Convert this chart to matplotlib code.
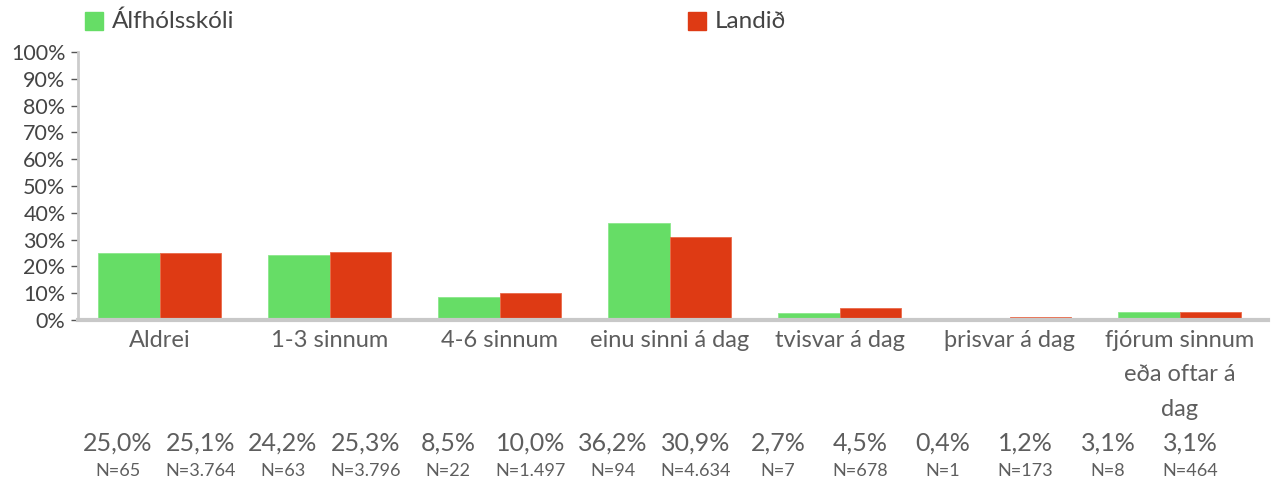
import matplotlib.pyplot as plt
import numpy as np

plt.rcParams['font.family'] = ['Lato', 'DejaVu Sans']

flokkar = ["Aldrei", "1-3 sinnum", "4-6 sinnum", "einu sinni á dag",
           "tvisvar á dag", "þrisvar á dag", "fjórum sinnum\neða oftar á\ndag"]
skoli = [25.0, 24.2, 8.5, 36.2, 2.7, 0.4, 3.1]
landid = [25.1, 25.3, 10.0, 30.9, 4.5, 1.2, 3.1]
n_skoli = ["65", "63", "22", "94", "7", "1", "8"]
n_landid = ["3.764", "3.796", "1.497", "4.634", "678", "173", "464"]

graenn = "#66dd66"
raudur = "#de3a14"
texti = "#5e5e5e"

fig = plt.figure(figsize=(12.76, 4.84), dpi=100)
ax = fig.add_axes([78 / 1276, 164 / 484, 1190 / 1276, 268 / 484])

x = np.arange(len(flokkar))
b = 0.36
ax.bar(x - b / 2, skoli, b, color=graenn, edgecolor="#8be88b", linewidth=0.6)
ax.bar(x + b / 2, landid, b, color=raudur, edgecolor="#ea6a4a", linewidth=0.6)

ax.set_xlim(-0.48, len(flokkar) - 0.48)
ax.set_ylim(0, 100)
ax.set_yticks(range(0, 101, 10))
ax.set_yticklabels([f"{v}%" for v in range(0, 101, 10)], fontsize=15.5, color="#444444")
ax.set_xticks(x)
ax.set_xticklabels(flokkar, fontsize=17, color=texti, linespacing=1.8)
ax.tick_params(axis="x", length=0, pad=7)
ax.tick_params(axis="y", length=5, width=1, color="#555555", pad=4)

for s in ["top", "right"]:
    ax.spines[s].set_visible(False)
ax.spines["left"].set_color("#cccccc")
ax.spines["left"].set_linewidth(2)
ax.spines["bottom"].set_color("#c8c8c8")
ax.spines["bottom"].set_linewidth(3)

# hlutföll og fjöldi undir myndinni, til skiptis skóli og landið
gildi = []
fjoldi = []
for i in range(len(flokkar)):
    gildi += [skoli[i], landid[i]]
    fjoldi += [n_skoli[i], n_landid[i]]
for j, (g, n) in enumerate(zip(gildi, fjoldi)):
    xp = (118 + 82.5 * j) / 1276
    fig.text(xp, 1 - 443 / 484, f"{g:.1f}%".replace(".", ","), ha="center", va="center",
             fontsize=18, color=texti)
    fig.text(xp, 1 - 471 / 484, f"N={n}", ha="center", va="center",
             fontsize=13, color=texti)

# skýringar efst
fig.patches.append(plt.Rectangle((85 / 1276, 1 - 30 / 484), 18 / 1276, 18 / 484,
                                 transform=fig.transFigure, color=graenn))
fig.text(112 / 1276, 1 - 21 / 484, "Álfhólsskóli", va="center", fontsize=17.5, color="#444444")
fig.patches.append(plt.Rectangle((688 / 1276, 1 - 30 / 484), 18 / 1276, 18 / 484,
                                 transform=fig.transFigure, color=raudur))
fig.text(715 / 1276, 1 - 21 / 484, "Landið", va="center", fontsize=17.5, color="#444444")

fig.savefig("out.png", dpi=100)
